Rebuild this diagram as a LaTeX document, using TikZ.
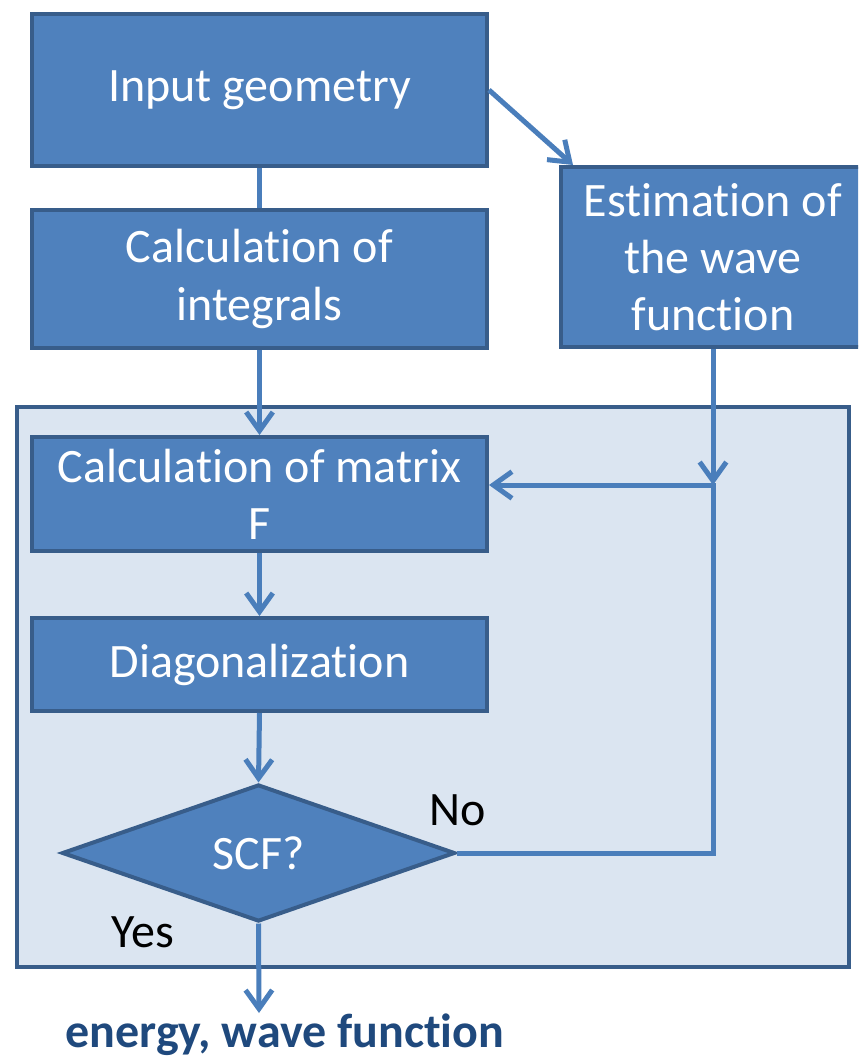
\documentclass[tikz,border=0pt]{standalone}
\usepackage{fontspec}
\setmainfont[Ligatures={NoCommon}]{Carlito}
\usetikzlibrary{shapes.geometric}
\usetikzlibrary{arrows.meta}
\definecolor{boxfill}{HTML}{4F81BD}
\definecolor{boxline}{HTML}{385D8A}
\definecolor{loopfill}{HTML}{DBE5F1}
\definecolor{flowline}{HTML}{4A7EBB}
\definecolor{resulttext}{HTML}{1F497D}

\begin{document}
\begin{tikzpicture}[x=0.75pt,y=-0.75pt,
	block/.style={draw=boxline,fill=boxfill,line width=3pt,text=white,align=center,inner sep=0pt,font=\fontsize{36}{43}\selectfont},
	decision/.style={diamond,draw=boxline,fill=boxfill,line width=3pt,text=white,inner sep=0pt,font=\fontsize{36}{43}\selectfont},
	flow/.style={draw=flowline,line width=3.75pt,-{Straight Barb[length=14pt,width=20pt]}},
	answer/.style={font=\fontsize{36}{43}\selectfont}]
	\clip (0,0) rectangle (858,1059);
	\node[draw=boxline,fill=loopfill,line width=3pt,minimum width=624pt,minimum height=420pt] (loop) at (433,687) {};
	\node[block,minimum width=341.25pt,minimum height=114pt] (input) at (259.5,90) {Input geometry};
	\node[block,minimum width=341.25pt,minimum height=103.5pt] (integrals) at (259.5,279) {Calculation of\\integrals};
	\node[block,minimum width=228pt,minimum height=135pt] (estimate) at (713,257) {Estimation of\\the wave\\function};
	\node[block,minimum width=341.25pt,minimum height=85.5pt] (matrix) at (259.5,494) {Calculation of matrix\\F};
	\node[block,minimum width=341.25pt,minimum height=69.75pt] (diag) at (259.5,664.5) {Diagonalization};
	\node[decision,minimum width=294.75pt,minimum height=102.75pt] (scf) at (258.5,853) {SCF?};
	\coordinate (junction) at (713,485);
	\coordinate (out) at (259,1013);
	\draw[flow,-] (input.south) -- (integrals.north);
	\draw[flow] (integrals.south) -- (matrix.north);
	\draw[flow] (input.east) -- ([xshift=10.5pt]estimate.north west);
	\draw[flow] (estimate.south) -- (junction);
	\draw[flow] (scf.east) -- (scf.east -| junction) -- (junction) -- (junction -| matrix.east);
	\draw[flow] (matrix.south) -- (diag.north);
	\draw[flow] (diag.south) -- (scf.north);
	\draw[flow] (scf.south) -- (out);
	\node[answer] (no) at (458,810) {No};
	\node[answer] (yes) at (143,932) {Yes};
	\node[answer,font=\fontsize{36}{43}\selectfont\bfseries,text=resulttext] (result) at (285,1035) {energy, wave function};
\end{tikzpicture}
\end{document}
